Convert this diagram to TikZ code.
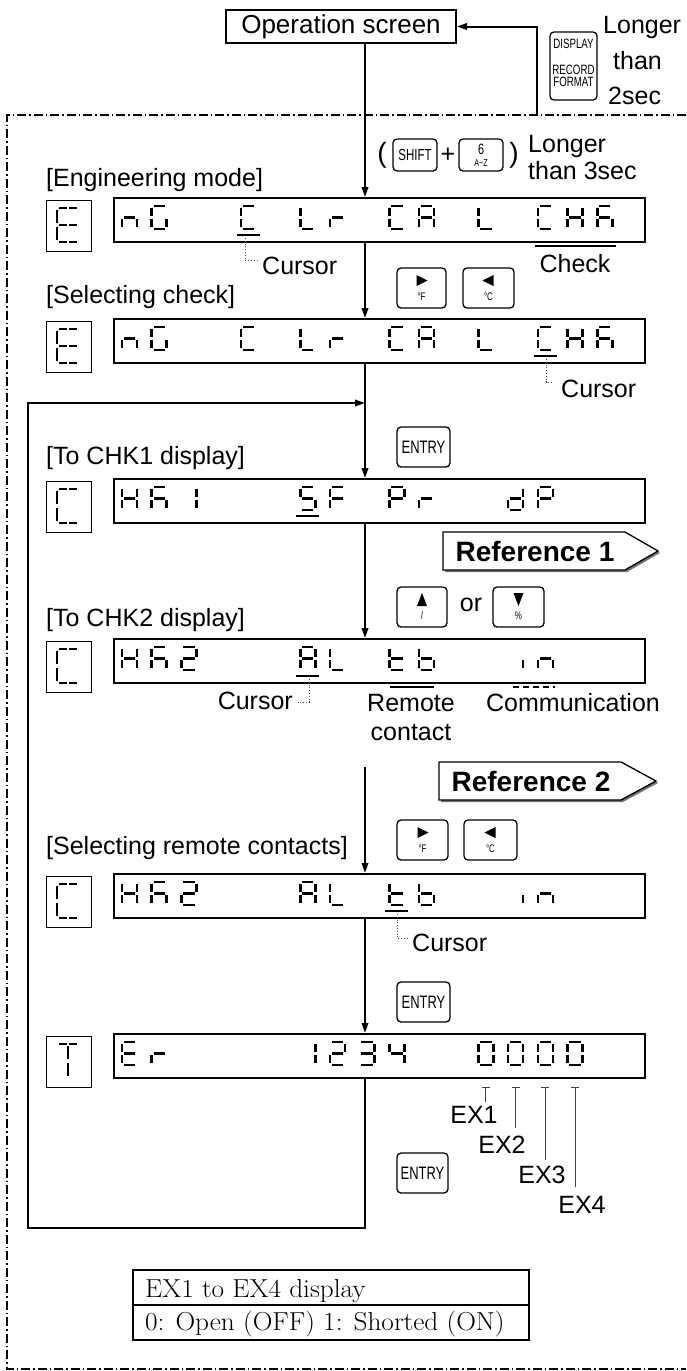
\documentclass[tikz,border=0pt]{standalone}
\usepackage{fontspec}
\newfontfamily\sansf{Liberation Sans}
\newfontfamily\keyfam[FakeStretch=0.72]{Liberation Sans}
\newfontfamily\tabf[FakeStretch=1.05]{Latin Modern Roman}
\usetikzlibrary{arrows.meta,calc}
\tikzset{
  lbl/.style={font=\sansf\fontsize{25}{27}\selectfont, inner sep=0pt},
  disp/.style={draw, line width=2.2pt, minimum width=531pt, minimum height=44pt, anchor=north west, inner sep=0pt},
  sbox/.style={draw, line width=1.2pt, minimum width=45pt, minimum height=51pt, anchor=north west, inner sep=0pt},
  seg/.style={line width=2.6pt},
  arr/.style={line width=2pt, -{Triangle[length=10pt,width=6.5pt]}},
  keyb/.style={draw, rounded corners=4pt, line width=1.3pt, inner sep=0pt},
  keyt/.style={font=\keyfam\fontsize{#1}{#1}\selectfont, inner sep=0pt},
  leader/.style={dotted, line width=0.8pt, black!70},
  cur/.style={line width=2.6pt},
  exl/.style={line width=1pt, black!75},
  reftag/.style={draw, fill=white, line width=1.3pt},
  reftext/.style={font=\sansf\bfseries\fontsize{28}{28}\selectfont, inner sep=0pt},
}
% seven segment pieces (W=15, H=23)
\def\SegA{\draw[seg] (1.8,0)--(13.2,0);}
\def\SegB{\draw[seg] (15,1.8)--(15,9.7);}
\def\SegC{\draw[seg] (15,13.3)--(15,21.2);}
\def\SegD{\draw[seg] (1.8,23)--(13.2,23);}
\def\SegE{\draw[seg] (0,13.3)--(0,21.2);}
\def\SegF{\draw[seg] (0,1.8)--(0,9.7);}
\def\SegG{\draw[seg] (1.8,11.5)--(13.2,11.5);}
\def\ChN{\SegE\SegG\SegC}
\def\ChG{\SegA\SegF\SegE\SegD\SegC}
\def\ChC{\SegA\SegF\SegE\SegD}
\def\ChL{\SegF\SegE\SegD}
\def\ChR{\SegE\SegG}
\def\ChA{\SegA\SegB\SegC\SegE\SegF\SegG}
\def\ChH{\SegB\SegC\SegE\SegF\SegG}
\def\ChK{\SegA\SegC\SegE\SegF\SegG}
\def\ChOne{\SegB\SegC}
\def\ChS{\SegA\SegF\SegG\SegC\SegD}
\def\ChF{\SegA\SegF\SegE\SegG}
\def\ChP{\SegA\SegB\SegF\SegG\SegE}
\def\ChD{\SegB\SegC\SegD\SegE\SegG}
\def\ChTwo{\SegA\SegB\SegG\SegE\SegD}
\def\ChT{\SegF\SegE\SegG\SegD}
\def\ChB{\SegF\SegE\SegD\SegC\SegG}
\def\ChI{\SegC}
\def\ChE{\SegA\SegF\SegE\SegD\SegG}
\def\ChThree{\SegA\SegB\SegG\SegC\SegD}
\def\ChFour{\SegF\SegG\SegB\SegC}
\def\ChZero{\SegA\SegB\SegC\SegD\SegE\SegF}
% big glyph pieces (W=22, H=34)
\def\bA{\draw[seg] (2,0)--(10,0) (12,0)--(20,0);}
\def\bG{\draw[seg] (2,17)--(10,17) (12,17)--(20,17);}
\def\bD{\draw[seg] (2,34)--(10,34) (12,34)--(20,34);}
\def\bF{\draw[seg] (0,2)--(0,15);}
\def\bE{\draw[seg] (0,19)--(0,32);}
\def\bV{\draw[seg] (11,2)--(11,15) (11,19)--(11,32);}
\newcommand\Glyph[3]{\begin{scope}[shift={(#1,#2)}]#3\end{scope}}
\newcommand\Row[2]{\foreach \p/\q in {#2}{\Glyph{122+29.7*\p}{#1}{\q}}}
\newcommand\Under[2]{\draw[cur] (118+29.7*#2,#1) -- (141+29.7*#2,#1);}
\begin{document}
\begin{tikzpicture}[x=1pt,y=-1pt]
\useasboundingbox (0,0) rectangle (686,1371);
% dash-dot frame
\draw[line width=1.2pt, dash pattern=on 9pt off 3pt on 1.5pt off 3pt] (686,115) -- (7,115) -- (7,1369) -- (686,1369);
\coordinate (mx) at (365,0);
% operation screen
\node[draw, line width=2pt, minimum width=230pt, minimum height=33pt, inner sep=0pt, font=\sansf\fontsize{26}{28}\selectfont] (op) at (341,26.5) {Operation screen};
\node[keyb, minimum width=47pt, minimum height=68pt] (kdisp) at (573.5,66) {};
\node[keyt=13.5] (kd1) at ($(kdisp.center)+(0,-22)$) {DISPLAY};
\node[keyt=13.5] (kd2) at ($(kdisp.center)+(0,4)$) {RECORD};
\node[keyt=13.5] (kd3) at ($(kdisp.center)+(0,16)$) {FORMAT};
\node[lbl, anchor=base west] (lg1) at (603,33) {Longer};
\node[lbl, anchor=base west] (lg2) at (613,69) {than};
\node[lbl, anchor=base west] (lg3) at (608,104) {2sec};
\coordinate (ret) at (537,115);
\draw[arr] (ret) |- (op.east);
% shift combo
\node[lbl, font=\sansf\fontsize{28}{28}\selectfont] (lp) at (382,155) {(};
\node[keyb, minimum width=44pt, minimum height=32pt] (kshift) at (415,155) {};
\node[keyt=16] at (kshift) {SHIFT};
\node[lbl] (plus) at (448,155) {+};
\node[keyb, minimum width=44pt, minimum height=32pt] (k6) at (481,155) {};
\node[keyt=15] at ($(k6.center)+(0,-6)$) {6};
\node[keyt=10] at ($(k6.center)+(0,8)$) {A\textasciitilde Z};
\node[lbl, font=\sansf\fontsize{28}{28}\selectfont] (rp) at (514,155) {)};
\node[lbl, anchor=west] (lg4) at (528,146) {Longer};
\node[lbl, anchor=west] (lg5) at (528,171) {than 3sec};
% ---------- display 1
\node[lbl, anchor=west] (t1) at (46,180) {[Engineering mode]};
\node[disp] (d1) at (113,197) {};
\node[sbox] (s1) at (46,200) {};
\Glyph{57}{208}{\bA\bF\bG\bE\bD}
\Row{206}{0/\ChN,1/\ChG,4/\ChC,6/\ChL,7/\ChR,9/\ChC,10/\ChA,12/\ChL,14/\ChC,15/\ChH,16/\ChK}
\Under{235}{4}
\coordinate (u1) at (245,238);
\coordinate (c1) at (259,260);
\draw[leader] (u1) |- (c1);
\node[lbl, anchor=west] (cur1) at (262,266) {Cursor};
\draw[line width=1.3pt] (535,246) -- (616,246);
\node[lbl] (chk) at (575,264) {Check};
\draw[arr] (op.south -| mx) -- (d1.north -| mx);
% keys right/left
\node[keyb, minimum width=49pt, minimum height=40pt] (kr1) at (421.5,288) {};
\node[keyb, minimum width=51pt, minimum height=40pt] (kl1) at (488.5,288) {};
% ---------- display 2
\node[lbl, anchor=west] (t2) at (46,297) {[Selecting check]};
\node[disp] (d2) at (113,318) {};
\node[sbox] (s2) at (46,321) {};
\Glyph{57}{329}{\bA\bF\bG\bE\bD}
\Row{327}{0/\ChN,1/\ChG,4/\ChC,6/\ChL,7/\ChR,9/\ChC,10/\ChA,12/\ChL,14/\ChC,15/\ChH,16/\ChK}
\Under{356}{14}
\coordinate (u2) at (546,359);
\coordinate (c2) at (553,382);
\draw[leader] (u2) |- (c2);
\node[lbl, anchor=west] (cur2) at (561,389) {Cursor};
\draw[arr] (d1.south -| mx) -- (d2.north -| mx);
% ---------- display 3 (CHK1)
\node[keyb, minimum width=53pt, minimum height=40pt] (ke1) at (423.5,447) {};
\node[keyt=18] at (ke1) {ENTRY};
\node[lbl, anchor=west] (t3) at (46,458) {[To CHK1 display]};
\node[disp] (d3) at (113,478) {};
\node[sbox] (s3) at (46,481) {};
\Glyph{57}{489}{\bA\bF\bE\bD}
\Row{487}{0/\ChH,1/\ChK,2/\ChOne,6/\ChS,7/\ChF,9/\ChP,10/\ChR,13/\ChD,14/\ChP}
\Under{516}{6}
\draw[arr] (d2.south -| mx) -- (d3.north -| mx);
% reference 1
\fill[black!55] (445,534) -- (627,534) -- (660,553) -- (627,572) -- (445,572) -- cycle;
\draw[reftag] (443,532) -- (625,532) -- (658,551) -- (625,570) -- (443,570) -- cycle;
\node[reftext] (ref1) at (535,551) {Reference 1};
% up / down keys
\node[keyb, minimum width=50pt, minimum height=40pt] (ku) at (422,607) {};
\node[lbl] (or) at (471,605) {or};
\node[keyb, minimum width=51pt, minimum height=40pt] (kdn) at (518.5,607) {};
% ---------- display 4 (CHK2)
\node[lbl, anchor=west] (t4) at (46,620) {[To CHK2 display]};
\node[disp] (d4) at (113,638) {};
\node[sbox] (s4) at (46,641) {};
\Glyph{57}{649}{\bA\bF\bE\bD}
\Row{647}{0/\ChH,1/\ChK,2/\ChTwo,6/\ChA,7/\ChL,9/\ChT,10/\ChB,13/\ChI,14/\ChN}
\Under{676}{6}
\draw[arr] (d3.south -| mx) -- (d4.north -| mx);
\coordinate (u4) at (309,679);
\coordinate (c4) at (298,702);
\draw[leader] (u4) |- (c4);
\node[lbl, anchor=east] (cur4) at (293,701) {Cursor};
\draw[line width=1.3pt] (390,687) -- (434,687);
\node[lbl] (rem1) at (411,703) {Remote};
\node[lbl] (rem2) at (411,733) {contact};
\draw[line width=1.3pt, dash pattern=on 6pt off 4pt] (513,687) -- (555,687);
\node[lbl] (comm) at (573,703) {Communication};
% reference 2
\fill[black!55] (441,764) -- (623,764) -- (658,783) -- (623,802) -- (441,802) -- cycle;
\draw[reftag] (439,762) -- (621,762) -- (656,781) -- (621,800) -- (439,800) -- cycle;
\node[reftext] (ref2) at (531,781) {Reference 2};
% keys right/left 2
\node[keyb, minimum width=51pt, minimum height=40pt] (kr2) at (422.5,840) {};
\node[keyb, minimum width=53pt, minimum height=40pt] (kl2) at (490.5,840) {};
% ---------- display 5
\node[lbl, anchor=west] (t5) at (46,848) {[Selecting remote contacts]};
\node[disp] (d5) at (113,873) {};
\node[sbox] (s5) at (46,876) {};
\Glyph{57}{884}{\bA\bF\bE\bD}
\Row{882}{0/\ChH,1/\ChK,2/\ChTwo,6/\ChA,7/\ChL,9/\ChT,10/\ChB,13/\ChI,14/\ChN}
\Under{911}{9}
\coordinate (a5) at (365,767);
\draw[arr] (a5) -- (d5.north -| mx);
\coordinate (u5) at (397,914);
\coordinate (c5) at (408,938);
\draw[leader] (u5) |- (c5);
\node[lbl, anchor=west] (cur5) at (412,943) {Cursor};
% ---------- display 6
\node[keyb, minimum width=53pt, minimum height=40pt] (ke2) at (423.5,1002) {};
\node[keyt=18] at (ke2) {ENTRY};
\node[disp] (d6) at (113,1033) {};
\node[sbox] (s6) at (46,1036) {};
\Glyph{57}{1044}{\bA\bV}
\Row{1042}{0/\ChE,1/\ChR,6/\ChOne,7/\ChTwo,8/\ChThree,9/\ChFour,12/\ChZero,13/\ChZero,14/\ChZero,15/\ChZero}
\draw[arr] (d5.south -| mx) -- (d6.north -| mx);
% EX markers
\foreach \i/\yb/\lx/\ly in {1/1102/474/1115, 2/1128/502/1145, 3/1160/542/1175, 4/1187/582/1205}{
  \coordinate (ex\i) at (122+29.7*\i+29.7*11+7.5,1087);
  \draw[exl] ($(ex\i)+(-4,0)$) -- ($(ex\i)+(4,0)$);
  \draw[exl] (ex\i) -- ++(0,\yb-1087);
  \node[lbl] (exl\i) at (\lx,\ly) {EX\i};
}
\node[keyb, minimum width=51pt, minimum height=40pt] (ke3) at (422.5,1173) {};
\node[keyt=18] at (ke3) {ENTRY};
% loop
\coordinate (lb) at (365,1228);
\coordinate (ll) at (28,1228);
\coordinate (lt) at (28,403);
\coordinate (lj) at (365,403);
\draw[arr] (d6.south -| mx) -- (lb) -- (ll) -- (lt) -- (lj);
% key symbols
\foreach \k/\lab in {kr1/{\textdegree F}, kr2/{\textdegree F}}{
  \fill ($(\k.center)+(-5,-13)$) -- ($(\k.center)+(6,-7.5)$) -- ($(\k.center)+(-5,-2)$) -- cycle;
  \node[keyt=11] at ($(\k.center)+(0,9)$) {\lab};
}
\foreach \k/\lab in {kl1/{\textdegree C}, kl2/{\textdegree C}}{
  \fill ($(\k.center)+(5,-13)$) -- ($(\k.center)+(-6,-7.5)$) -- ($(\k.center)+(5,-2)$) -- cycle;
  \node[keyt=11] at ($(\k.center)+(0,9)$) {\lab};
}
\fill ($(ku.center)+(0,-14)$) -- ($(ku.center)+(5,-1)$) -- ($(ku.center)+(-5,-1)$) -- cycle;
\node[keyt=11] at ($(ku.center)+(0,9)$) {/};
\fill ($(kdn.center)+(0,-1)$) -- ($(kdn.center)+(5,-14)$) -- ($(kdn.center)+(-5,-14)$) -- cycle;
\node[keyt=11] at ($(kdn.center)+(0,9)$) {\%};
% table
\node[draw, line width=2pt, minimum width=396pt, minimum height=70pt, inner sep=0pt, anchor=north west] (tab) at (132,1269) {};
\draw[line width=2pt] (tab.west) -- (tab.east);
\node[anchor=base west, inner sep=0pt, font=\tabf\fontsize{26}{26}\selectfont] (tx1) at (145,1297) {EX1 to EX4 display};
\node[anchor=base west, inner sep=0pt, font=\tabf\fontsize{26}{26}\selectfont] (tx2) at (145,1330) {0: Open (OFF) 1: Shorted (ON)};
\end{tikzpicture}
\end{document}
